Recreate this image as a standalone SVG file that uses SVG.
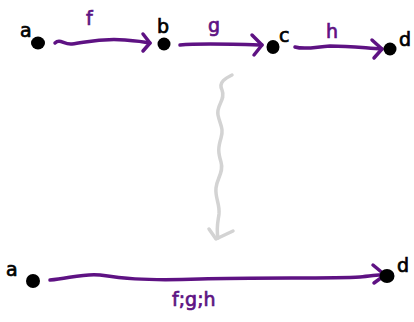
<svg xmlns="http://www.w3.org/2000/svg" width="414" height="322" viewBox="0 0 414 322">
<style>
.dot{fill:#000}
.lbl{font-family:"DejaVu Sans",sans-serif;font-size:19px;fill:#000;stroke:#000;stroke-width:0.7}
.plbl{font-family:"DejaVu Sans",sans-serif;font-size:19px;fill:#5e1283;stroke:#5e1283;stroke-width:0.7}
.arr{fill:none;stroke:#5e1283;stroke-width:3.5;stroke-linecap:round;stroke-linejoin:round}
.gray{fill:none;stroke:#d3d3d3;stroke-width:3.5;stroke-linecap:round;stroke-linejoin:round}
</style>
<rect width="414" height="322" fill="#fff"/>
<g id="connectors">
<g id="f">
<path class="arr" d="M55,43 C60,38 64,45 72,44 C88,42 100,38 125,40 C138,41 145,42 150,43"/>
<path class="arr" d="M143,34 L150,43 L143,51"/>
</g>
<g id="g">
<path class="arr" d="M180,45 C200,43 230,44 262,45"/>
<path class="arr" d="M252,35 L262,45 L254,55"/>
</g>
<g id="h">
<path class="arr" d="M295,47 C305,50 315,47 330,46 C350,46 365,48 382,49"/>
<path class="arr" d="M372,40 L382,49 L374,58"/>
</g>
<g id="compose">
<path class="arr" d="M50,280 C70,278 85,273 100,275 C120,278 140,281 200,279 C260,277 330,279 360,277 C372,276 382,274 392,274"/>
<path class="arr" d="M373,265 L385,275 L374,283"/>
</g>
<g id="squiggle">
<path class="gray" d="M232,75 C226,78 218,82 222,90 C226,100 216,105 218,115 C220,125 224,128 221,138 C218,148 218,152 221,162 C224,172 217,178 216,188 C215,198 220,204 219,214 C218,222 216,228 218,238"/>
<path class="gray" d="M209,229 L216,239 L233,231"/>
</g>
</g>
<g id="node-a"><ellipse class="dot" cx="38" cy="43" rx="7" ry="6.5"/><text class="lbl" x="20" y="37">a</text></g>
<g id="node-b"><ellipse class="dot" cx="164" cy="44" rx="6.5" ry="6.5"/><text class="lbl" x="157" y="33">b</text></g>
<g id="node-c"><ellipse class="dot" cx="273" cy="47" rx="6.5" ry="7"/><text class="lbl" x="279" y="42">c</text></g>
<g id="node-d"><ellipse class="dot" cx="390" cy="49" rx="6.5" ry="6.5"/><text class="lbl" x="399" y="46">d</text></g>
<g id="node-a2"><ellipse class="dot" cx="33" cy="281" rx="7" ry="7"/><text class="lbl" x="6" y="276">a</text></g>
<g id="node-d2"><ellipse class="dot" cx="387" cy="276" rx="7.5" ry="7"/><text class="lbl" x="397" y="272">d</text></g>
<text class="plbl" x="86" y="25">f</text>
<text class="plbl" x="208" y="32">g</text>
<text class="plbl" x="326" y="38">h</text>
<text class="plbl" x="172" y="306">f;g;h</text>
</svg>
